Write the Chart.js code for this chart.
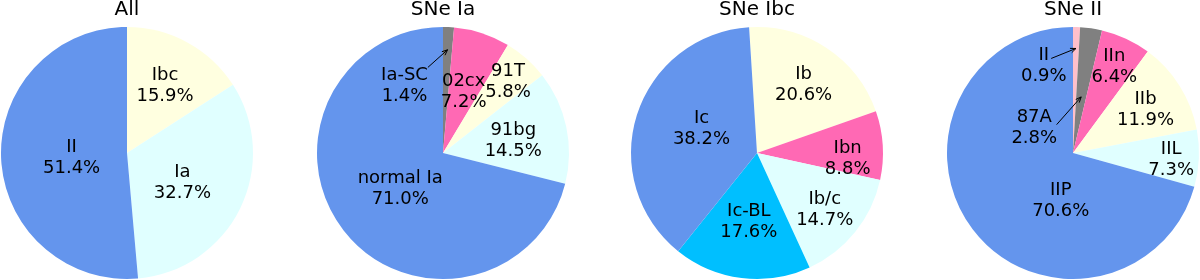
<!DOCTYPE html>
<html>
<head>
<meta charset="utf-8">
<script src="https://cdn.jsdelivr.net/npm/chart.js@4"></script>
<style>
  body { margin: 0; background: #fff; }
  #wrap { position: relative; width: 1200px; height: 280px; }
  .pie { position: absolute; top: 0; width: 300px; height: 280px; }
</style>
</head>
<body>
<div id="wrap">
  <div class="pie" style="left:-23px"><canvas id="pieAll" width="300" height="280"></canvas></div>
  <div class="pie" style="left:293px"><canvas id="pieIa" width="300" height="280"></canvas></div>
  <div class="pie" style="left:607px"><canvas id="pieIbc" width="300" height="280"></canvas></div>
  <div class="pie" style="left:923px"><canvas id="pieII" width="300" height="280"></canvas></div>
</div>
<script>
// valores (percentagens)
const allLabels = ['Ibc', 'Ia', 'II'];
const allValues = [15.9, 32.7, 51.4];

const iaLabels = ['Ia-SC', '02cx', '91T', '91bg', 'normal Ia'];
const iaValues = [1.4, 7.2, 5.8, 14.5, 71.0];

const ibcLabels = ['Ib', 'Ibn', 'Ib/c', 'Ic-BL', 'Ic'];
const ibcValues = [20.6, 8.8, 14.7, 17.6, 38.2];

const iiLabels = ['II', '87A', 'IIn', 'IIb', 'IIL', 'IIP'];
const iiValues = [0.9, 2.8, 6.4, 11.9, 7.3, 70.6];

const CORNFLOWER = '#6495ED', LCYAN = '#E0FFFF', LYELLOW = '#FFFFE0',
      HOTPINK = '#FF69B4', GREY = '#808080', DSKY = '#00BFFF', PINK = '#FFC0CB';

// posição dos rótulos: fração do raio, ângulo opcional (graus a partir do topo), seta opcional
const posAll = [{f: 0.63}, {f: 0.49}, {f: 0.44}];
const posIa = [
    {f: 0.63, ang: 331, arrow: {tailF: 0.69, tailAng: 350, tipF: 0.82}},
    {f: 0.53}, {f: 0.78}, {f: 0.57}, {f: 0.43}
];
const posIbc = [{f: 0.67}, {f: 0.72, ang: 92}, {f: 0.69}, {f: 0.53}, {f: 0.49, ang: 296}];
const posII = [
    {f: 0.75, ang: 342, arrow: {tailF: 0.77, tailAng: 347, tipF: 0.83}},
    {f: 0.38, ang: 306, arrow: {tailF: 0.26, tailAng: 330, tipF: 0.45}},
    {f: 0.78}, {f: 0.68}, {f: 0.78}, {f: 0.375, ang: 195}
];

const rotulosPlugin = {
    id: 'rotulos',
    afterDatasetsDraw(chart, args, opts) {
        const ctx = chart.ctx;
        const meta = chart.getDatasetMeta(0);
        const valores = chart.data.datasets[0].data;
        ctx.save();
        ctx.font = '18px "DejaVu Sans"';
        ctx.fillStyle = '#000';
        ctx.strokeStyle = '#000';
        ctx.textAlign = 'center';
        ctx.textBaseline = 'middle';
        meta.data.forEach(function(arc, i) {
            const p = arc.getProps(['x', 'y', 'startAngle', 'endAngle', 'outerRadius'], true);
            const meio = (p.startAngle + p.endAngle) / 2;
            const pos = opts.pos[i];
            const a = pos.ang !== undefined ? (pos.ang - 90) * Math.PI / 180 : meio;
            const tx = p.x + pos.f * p.outerRadius * Math.cos(a);
            const ty = p.y + pos.f * p.outerRadius * Math.sin(a) + 2.5;
            ctx.fillText(chart.data.labels[i], tx, ty - 10.5);
            ctx.fillText(valores[i].toFixed(1) + '%', tx, ty + 10.5);
            if (pos.arrow) {
                const ta = (pos.arrow.tailAng - 90) * Math.PI / 180;
                const x0 = p.x + pos.arrow.tailF * p.outerRadius * Math.cos(ta);
                const y0 = p.y + pos.arrow.tailF * p.outerRadius * Math.sin(ta);
                const x1 = p.x + pos.arrow.tipF * p.outerRadius * Math.cos(meio);
                const y1 = p.y + pos.arrow.tipF * p.outerRadius * Math.sin(meio);
                const ang = Math.atan2(y1 - y0, x1 - x0);
                ctx.lineWidth = 1;
                ctx.beginPath();
                ctx.moveTo(x0, y0);
                ctx.lineTo(x1, y1);
                ctx.moveTo(x1 - 6 * Math.cos(ang - 0.4), y1 - 6 * Math.sin(ang - 0.4));
                ctx.lineTo(x1, y1);
                ctx.lineTo(x1 - 6 * Math.cos(ang + 0.4), y1 - 6 * Math.sin(ang + 0.4));
                ctx.stroke();
            }
        });
        ctx.restore();
    }
};

function criaPizza(canvasId, titulo, rotulos, valores, cores, posicoes, rotacao) {
    const canvas = document.getElementById(canvasId);
    return new Chart(canvas, {
        type: 'pie',
        data: {
            labels: rotulos,
            datasets: [{
                data: valores,
                backgroundColor: cores,
                borderWidth: 0,
                hoverOffset: 0,
                radius: 126
            }]
        },
        options: {
            responsive: false,
            animation: false,
            devicePixelRatio: 1,
            rotation: rotacao,
            layout: { padding: 0 },
            plugins: {
                legend: { display: false },
                tooltip: { enabled: false },
                title: {
                    display: true,
                    text: titulo,
                    color: '#000',
                    font: { family: 'DejaVu Sans', size: 20, weight: 'normal', lineHeight: 1 },
                    padding: { top: 0, bottom: 6 }
                },
                rotulos: { pos: posicoes }
            }
        },
        plugins: [rotulosPlugin]
    });
}

criaPizza('pieAll', 'All', allLabels, allValues, [LYELLOW, LCYAN, CORNFLOWER], posAll, 0);
criaPizza('pieIa', 'SNe Ia', iaLabels, iaValues, [GREY, HOTPINK, LYELLOW, LCYAN, CORNFLOWER], posIa, 0);
criaPizza('pieIbc', 'SNe Ibc', ibcLabels, ibcValues, [LYELLOW, HOTPINK, LCYAN, DSKY, CORNFLOWER], posIbc, -3.6);
criaPizza('pieII', 'SNe II', iiLabels, iiValues, [PINK, GREY, HOTPINK, LYELLOW, LCYAN, CORNFLOWER], posII, 0);
</script>
</body>
</html>
